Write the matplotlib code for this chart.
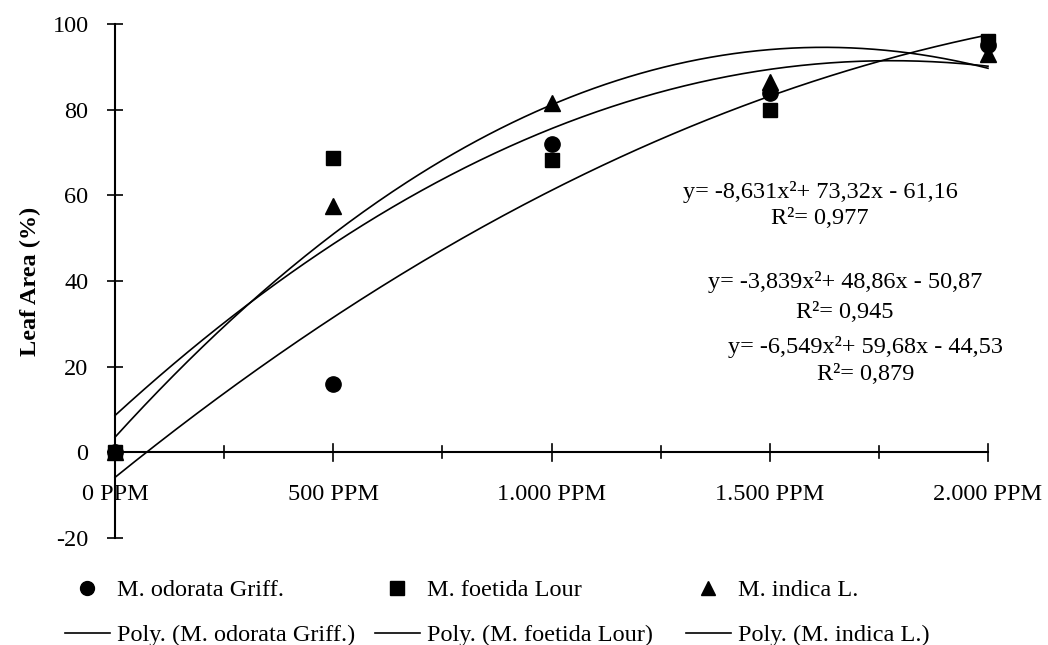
import numpy as np
import matplotlib
matplotlib.use("Agg")
import matplotlib.pyplot as plt
from matplotlib.lines import Line2D

# ---- data ----
x_pos = [1, 2, 3, 4, 5]
x_labels = ["0 PPM", "500 PPM", "1.000 PPM", "1.500 PPM", "2.000 PPM"]
odorata = [0, 16, 72, 84, 95]
foetida = [0, 68.7, 68.3, 80, 96]
indica = [0, 57.5, 81.5, 86.5, 93]
series_names = ["M. odorata Griff.", "M. foetida Lour", "M. indica L."]
# trend-line coefficients as printed (x^2, x, const)
coef_odorata = [-3.839, 48.86, -50.87]
coef_foetida = [-6.549, 59.68, -44.53]
coef_indica = [-8.631, 73.32, -61.16]
eq_texts = [
    ("y= -8,631x²+ 73,32x - 61,16", "R²= 0,977"),
    ("y= -3,839x²+ 48,86x - 50,87", "R²= 0,945"),
    ("y= -6,549x²+ 59,68x - 44,53", "R²= 0,879"),
]
y_ticks = [-20, 0, 20, 40, 60, 80, 100]

FS = 17.5
plt.rcParams['font.family'] = ['Liberation Serif', 'DejaVu Serif']

W, H = 1048, 645
fig = plt.figure(figsize=(W / 100, H / 100), dpi=100)
ax = fig.add_axes([115 / W, 1 - 538 / H, (988 - 115) / W, (538 - 24) / H])
ax.set_xlim(1, 5)
ax.set_ylim(-20, 100)

for s in ['top', 'right', 'bottom']:
    ax.spines[s].set_visible(False)
ax.spines['left'].set_linewidth(1.5)
ax.spines['left'].set_position(('data', 1))
ax.axhline(0, color='black', lw=1.5, zorder=1, clip_on=False)

ax.set_yticks(y_ticks)
ax.set_yticklabels([str(v) for v in y_ticks], fontsize=FS)
ax.tick_params(axis='y', direction='inout', length=12, width=1.2, pad=13)

# x ticks drawn along the y=0 line
ax.set_xticks([])
for xv in x_pos:
    ax.plot([xv, xv], [-2.0, 2.0], color='black', lw=1.2, clip_on=False, zorder=1)
for xv in np.array(x_pos[:-1]) + 0.5:
    ax.plot([xv, xv], [-1.4, 1.4], color='black', lw=1.2, clip_on=False, zorder=1)
for xv, lab in zip(x_pos, x_labels):
    ax.text(xv, -9.8, lab, ha='center', va='center', fontsize=FS)

ax.set_ylabel("Leaf Area (%)", fontsize=FS, fontweight='bold', labelpad=8)

xx = np.linspace(1, 5, 300)
for c in [coef_odorata, coef_foetida, coef_indica]:
    ax.plot(xx, np.polyval(c, xx), color='black', lw=1.2, clip_on=False, zorder=2)

ms = 11
ax.plot(x_pos, odorata, 'o', color='black', ms=ms, clip_on=False, zorder=3)
ax.plot(x_pos, indica, '^', color='black', ms=ms, clip_on=False, zorder=3)
ax.plot(x_pos, foetida, 's', color='black', ms=ms - 1, clip_on=False, zorder=4)

# equations
eq_pos = [(820, 192, 219), (845, 282, 312), (866, 347, 375)]
for (eq, r2), (cx, y1, y2) in zip(eq_texts, eq_pos):
    fig.text(cx / W, 1 - y1 / H, eq, ha='center', va='center', fontsize=FS)
    fig.text(cx / W, 1 - y2 / H, r2, ha='center', va='center', fontsize=FS)

# legend: three columns
markers = ['o', 's', '^']
col_x = [65, 375, 686]
for name, mk, cx in zip(series_names, markers, col_x):
    h1 = Line2D([], [], ls='none', marker=mk, color='black', ms=ms - 1)
    h2 = Line2D([], [], color='black', lw=1.2)
    fig.legend([h1, h2], [name, "Poly. (%s)" % name], loc='upper left',
               bbox_to_anchor=(cx / W, 1 - 579 / H), frameon=False,
               fontsize=FS, handlelength=1.85, handletextpad=0.3,
               borderpad=0, borderaxespad=0, labelspacing=0.95)

fig.savefig("out.png", dpi=100)
